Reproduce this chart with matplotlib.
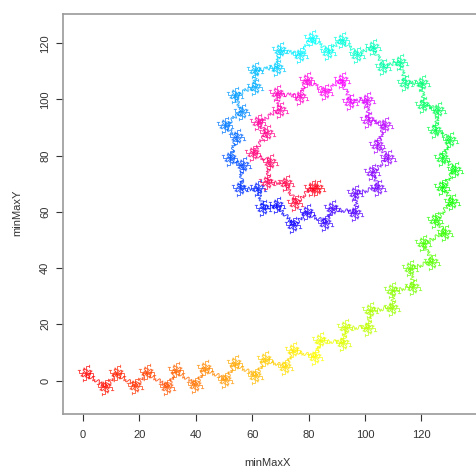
import numpy as np
import matplotlib
matplotlib.use("Agg")
import matplotlib.pyplot as plt
from matplotlib.colors import hsv_to_rgb
from matplotlib.lines import Line2D
from matplotlib.path import Path

# Approximate cluster positions along the path
path_x = [1.06, 7.80, 12.06, 18.45, 22.70, 29.80, 32.99, 39.73, 43.28, 50.37,
          53.92, 61.01, 64.56, 71.66, 74.49, 82.30, 84.07, 92.23, 92.94, 101.10,
          101.81, 109.61, 109.61, 117.06, 116.00, 123.80, 120.61, 128.41, 124.87, 130.90,
          127.35, 131.96, 127.35, 130.19, 124.87, 125.93, 120.61, 120.25, 114.22, 112.45,
          106.42, 102.87, 97.20, 91.88, 86.91, 81.23, 76.98, 69.88, 68.82, 61.01,
          61.01, 53.92, 56.40, 50.37, 54.63, 52.15, 56.76, 55.69, 62.08, 63.85,
          68.82, 74.49, 79.46, 85.85, 88.33, 96.49, 96.49, 104.65, 102.52, 108.19,
          104.29, 107.13, 101.10, 100.74, 94.71, 91.88, 85.85, 79.46, 76.98, 68.82,
          69.88, 62.08, 65.27, 60.31, 66.34, 65.27, 72.01, 75.20, 81.23, 83.01]
path_y = [2.67, -2.31, 2.67, -1.96, 3.02, -2.31, 3.74, -1.60, 4.45, 0.18,
          6.23, 1.60, 7.65, 4.80, 10.85, 8.36, 14.41, 13.35, 19.04, 18.68,
          25.09, 25.80, 32.21, 33.27, 40.04, 42.17, 48.93, 52.49, 57.12, 63.52,
          68.86, 74.91, 79.18, 85.59, 89.15, 96.26, 98.04, 105.87, 105.87, 113.35,
          111.57, 118.68, 115.84, 121.17, 116.90, 121.89, 115.84, 117.62, 111.21, 110.50,
          104.45, 101.60, 95.55, 90.93, 86.65, 79.18, 76.69, 68.51, 68.51, 61.39,
          62.46, 55.34, 59.96, 56.05, 61.39, 59.61, 66.73, 68.51, 74.20, 79.18,
          83.81, 90.93, 92.70, 99.82, 99.11, 106.94, 102.67, 106.94, 100.89, 102.31,
          96.26, 91.99, 88.08, 80.96, 77.76, 70.64, 70.28, 63.17, 68.51, 68.51]

x_ticks = [0, 20, 40, 60, 80, 100, 120]
y_ticks = [0, 20, 40, 60, 80, 100, 120]
x_label = "minMaxX"
y_label = "minMaxY"


def pinwheel_marker():
    # a scribbly pinwheel glyph used as marker shape (style only)
    arm = [[(0, 0), (0, 1.0), (0.45, 1.0), (0.45, 0.8)],
           [(0, 0.55), (-0.35, 0.55), (-0.35, 0.75)],
           [(0.45, 1.0), (0.45, 1.25)]]
    verts, codes = [], []
    for scale, rot in [(1.0, 0.0), (0.7, np.pi / 4)]:
        for k in range(4):
            a = rot + k * np.pi / 2
            c, s = np.cos(a), np.sin(a)
            for stroke in arm:
                for j, (px, py) in enumerate(stroke):
                    verts.append((scale * (c * px - s * py), scale * (s * px + c * py)))
                    codes.append(Path.MOVETO if j == 0 else Path.LINETO)
    return Path(verts, codes)


blob = pinwheel_marker()

W, H = 477, 471
fig = plt.figure(figsize=(W / 100, H / 100), dpi=100)
ax = fig.add_axes([63 / W, (H - 413.7) / H, 1.0 - 63 / W, (413.7 - 13.7) / H])
ax.set_xlim(-7.1, 139.7)
ax.set_ylim(-11.8, 130.5)

n = len(path_x)
for i in range(n - 1):
    col = hsv_to_rgb([i / n, 1, 1])
    ln = Line2D([path_x[i], path_x[i + 1]], [path_y[i], path_y[i + 1]],
                color=col, lw=0.7, alpha=0.8)
    ln.set_sketch_params(scale=2.5, length=4, randomness=3)
    ax.add_line(ln)
for i in range(n):
    col = hsv_to_rgb([i / n, 1, 1])
    ln = Line2D([path_x[i]], [path_y[i]], ls='none', marker=blob,
                markersize=12.5, mew=0.65, mec=col, mfc='none', alpha=0.75)
    ax.add_line(ln)

ax.set_xticks(x_ticks)
ax.set_yticks(y_ticks)
for s in ['top', 'bottom', 'left']:
    ax.spines[s].set_color('#999999')
    ax.spines[s].set_linewidth(1.2)
ax.spines['right'].set_visible(False)
ax.tick_params(axis='both', direction='out', length=4.7, width=0.8,
               color='#333333', labelcolor='#333333', labelsize=8)
ax.tick_params(axis='x', pad=7)
ax.tick_params(axis='y', pad=4.5)
for lab in ax.get_yticklabels():
    lab.set_rotation(90)
    lab.set_va('center')
for lab in ax.get_xticklabels() + ax.get_yticklabels():
    lab.set_family('Liberation Sans')

fig.text(267 / W, 1 - 463 / H, x_label, ha='center', va='center',
         fontsize=8, color='#333333', family='Liberation Sans')
fig.text(17 / W, 1 - 213 / H, y_label, ha='center', va='center', rotation=90,
         fontsize=8, color='#333333', family='Liberation Sans')

fig.savefig('out.png', dpi=100)
